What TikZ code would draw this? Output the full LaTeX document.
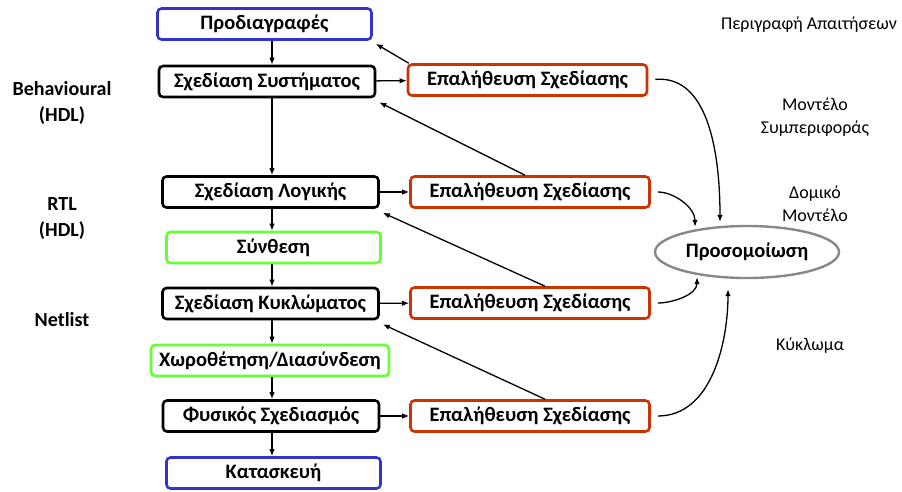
\documentclass[tikz,border=0pt]{standalone}
\usepackage{fontspec}
\setmainfont{Carlito}
\usetikzlibrary{arrows.meta,shapes.geometric,calc}
\definecolor{cblue}{RGB}{51,51,204}
\definecolor{corange}{RGB}{204,51,0}
\definecolor{cgreen}{RGB}{102,255,51}
\definecolor{cgray}{RGB}{136,136,136}
\tikzset{
  box/.style={draw, rounded corners=4pt, line width=2.6pt, inner sep=0pt, font=\fontsize{20.5}{22}\selectfont\bfseries, minimum height=31pt},
  blackbox/.style={box, draw=black, minimum width=216pt},
  bluebox/.style={box, draw=cblue, minimum width=214pt},
  greenbox/.style={box, draw=cgreen, minimum width=214pt},
  verbox/.style={box, draw=corange, minimum width=239pt},
  sidelab/.style={align=center, font=\fontsize{20}{26}\selectfont\bfseries},
  rightlab/.style={align=center, font=\fontsize{18}{23}\selectfont},
  arr/.style={-{Latex[length=7pt,width=5.5pt]}, line width=1.3pt},
}
\begin{document}
\begin{tikzpicture}[x=1pt,y=-1pt]
\useasboundingbox (0,0) rectangle (902,491);
\coordinate (ax) at (272,0);
\node[bluebox]  (spec)  at (264.5,24)   {Προδιαγραφές};
\node[blackbox] (sys)   at (267,81.5)   {Σχεδίαση Συστήματος};
\node[verbox]   (ver1)  at (527.5,80)   {Επαλήθευση Σχεδίασης};
\node[blackbox] (logic) at (270.5,192)  {Σχεδίαση Λογικής};
\node[verbox]   (ver2)  at (530,192)    {Επαλήθευση Σχεδίασης};
\node[greenbox] (synth) at (273.5,247.5){Σύνθεση};
\node[blackbox] (circ)  at (270.5,303.5){Σχεδίαση Κυκλώματος};
\node[verbox]   (ver3)  at (530,303)    {Επαλήθευση Σχεδίασης};
\node[greenbox, minimum width=238pt] (pr) at (270,360.5) {Χωροθέτηση/Διασύνδεση};
\node[blackbox] (phys)  at (271,416)    {Φυσικός Σχεδιασμός};
\node[verbox]   (ver4)  at (530,416)    {Επαλήθευση Σχεδίασης};
\node[bluebox]  (fab)   at (273.5,473)  {Κατασκευή};
\node[ellipse, draw=cgray, line width=2.4pt, minimum width=184pt, minimum height=52pt, inner sep=0pt,
      font=\fontsize{20.5}{22}\selectfont\bfseries] (sim) at (747,252) {Προσομοίωση};

\node[sidelab] (l1) at (62,103) {Behavioural\\(HDL)};
\node[sidelab] (l2) at (62,219) {RTL\\(HDL)};
\node[sidelab] (l3) at (62,320) {Netlist};
\node[rightlab] (r1) at (809,25) {Περιγραφή Απαιτήσεων};
\node[rightlab] (r2) at (815,117) {Μοντέλο\\Συμπεριφοράς};
\node[rightlab] (r3) at (815,204) {Δομικό\\Μοντέλο};
\node[rightlab] (r4) at (810,346) {Κύκλωμα};

% vertical flow
\draw[arr] (spec.south -| ax) -- (sys.north -| ax);
\draw[arr] (sys.south -| ax) -- (logic.north -| ax);
\draw[arr] (logic.south -| ax) -- (synth.north -| ax);
\draw[arr] (synth.south -| ax) -- (circ.north -| ax);
\draw[arr] (circ.south -| ax) -- (pr.north -| ax);
\draw[arr] (pr.south -| ax) -- (phys.north -| ax);
\draw[arr] (phys.south -| ax) -- (fab.north -| ax);

% to verification
\draw[arr] (sys) -- (ver1);
\draw[arr] (logic) -- (ver2);
\draw[arr] (circ) -- (ver3);
\draw[arr] (phys) -- (ver4);

% feedback
\draw[arr] ($(ver1.north west)+(2,0)$) -- ($(spec.south east)+(3,3)$);
\draw[arr] ($(ver2.north)+(-5,0)$) -- ($(sys.south east)+(3,4)$);
\draw[arr] ($(ver3.north)+(15,0)$) -- ($(logic.south east)+(3,4)$);
\draw[arr] ($(ver4.north)+(15,0)$) -- ($(circ.south east)+(3,4)$);

% to simulation
\draw[arr, shorten <=7pt, shorten >=3pt] (ver1.east) to[out=5,in=90] ($(sim.north)+(-27,0)$);
\draw[arr, shorten <=7pt, shorten >=3pt] (ver2.east) to[out=0,in=90] ($(sim.north)+(-52,5)$);
\draw[arr, shorten <=7pt, shorten >=4pt] (ver3.east) to[out=0,in=-90] ($(sim.south)+(-50,-6)$);
\draw[arr, shorten <=7pt, shorten >=10pt] (ver4.east) to[out=0,in=-90] ($(sim.south)+(-19,0)$);
\end{tikzpicture}
\end{document}
